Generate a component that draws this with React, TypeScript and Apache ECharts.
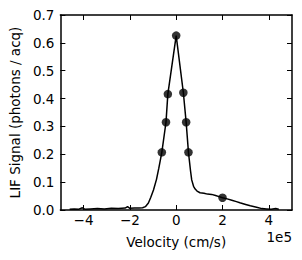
import React, { useEffect, useRef } from "react";
import * as echarts from "echarts";

const curveX = [-4.6, -4.4, -4.2, -4.05, -3.95, -3.7, -3.4, -3.1, -2.8, -2.5, -2.2, -2.1, -2.0, -1.8, -1.6, -1.45, -1.33, -1.2, -1.1, -0.98, -0.85, -0.75, -0.62, -0.44, -0.36, 0, 0.31, 0.43, 0.53, 0.62, 0.67, 0.75, 0.82, 0.9, 1.03, 1.2, 1.35, 1.53, 1.7, 1.85, 2.0, 2.2, 2.4, 2.6, 2.75, 3.0, 3.2, 3.47, 3.7, 3.9, 4.1, 4.3, 4.43];
const curveY = [0.003, 0.004, 0.003, 0.008, 0.003, 0.004, 0.005, 0.004, 0.006, 0.005, 0.007, 0.012, 0.006, 0.007, 0.007, 0.008, 0.012, 0.025, 0.045, 0.072, 0.11, 0.15, 0.207, 0.315, 0.416, 0.626, 0.421, 0.315, 0.207, 0.14, 0.108, 0.085, 0.075, 0.068, 0.062, 0.06, 0.057, 0.056, 0.052, 0.048, 0.044, 0.04, 0.035, 0.03, 0.026, 0.02, 0.015, 0.01, 0.005, 0.004, 0.003, 0.005, 0.003];
const markerX = [-0.62, -0.44, -0.36, 0, 0.31, 0.43, 0.53, 2.0];
const markerY = [0.207, 0.315, 0.416, 0.626, 0.421, 0.315, 0.207, 0.044];
const xTicks = [-4, -2, 0, 2, 4];
const yTicks = [0, 0.1, 0.2, 0.3, 0.4, 0.5, 0.6, 0.7];

const FONT = "DejaVu Sans";
const FS = 13.5;

export default function App() {
  const ref = useRef<HTMLDivElement>(null);
  useEffect(() => {
    if (!ref.current) return;
    const chart = echarts.init(ref.current, null, { renderer: "svg" });
    const fmtX = (v: number) => (v < 0 ? "\u2212" + Math.abs(v) : String(v));
    const baseAxisLine = { show: true, onZero: false, lineStyle: { color: "#000", width: 1.5 } };
    const tick = { inside: true, length: 5, lineStyle: { color: "#000", width: 1 } };
    const txt = { color: "#000", fontFamily: FONT, fontSize: FS };
    chart.setOption({
      animation: false,
      backgroundColor: "#fff",
      grid: { left: 59, right: 10, top: 15, bottom: 50, containLabel: false },
      xAxis: [
        {
          type: "value",
          min: -5,
          max: 5,
          position: "bottom",
          axisLine: baseAxisLine,
          axisTick: { ...tick, customValues: xTicks },
          axisLabel: { ...txt, customValues: xTicks, formatter: fmtX, margin: 3 },
          splitLine: { show: false },
          name: "Velocity (cm/s)",
          nameLocation: "middle",
          nameGap: 25,
          nameTextStyle: txt,
        },
        {
          type: "value",
          min: -5,
          max: 5,
          position: "top",
          axisLine: baseAxisLine,
          axisTick: { ...tick, customValues: xTicks },
          axisLabel: { show: false },
          splitLine: { show: false },
        },
      ],
      yAxis: [
        {
          type: "value",
          min: 0,
          max: 0.7,
          position: "left",
          axisLine: baseAxisLine,
          axisTick: { ...tick, customValues: yTicks },
          axisLabel: { ...txt, customValues: yTicks, formatter: (v: number) => v.toFixed(1), margin: 6 },
          splitLine: { show: false },
          name: "LIF Signal (photons / acq)",
          nameLocation: "middle",
          nameGap: 36,
          nameTextStyle: txt,
        },
        {
          type: "value",
          min: 0,
          max: 0.7,
          position: "right",
          axisLine: baseAxisLine,
          axisTick: { ...tick, customValues: yTicks },
          axisLabel: { show: false },
          splitLine: { show: false },
        },
      ],
      graphic: [
        {
          type: "text",
          right: 10,
          top: 230,
          style: { text: "1e5", fill: "#000", font: `${FS}px "${FONT}"` },
        },
      ],
      series: [
        {
          type: "line",
          data: curveX.map((x, i) => [x, curveY[i]]),
          showSymbol: false,
          symbol: "none",
          lineStyle: { color: "#000", width: 1.5 },
          z: 2,
        },
        {
          type: "scatter",
          data: markerX.map((x, i) => [x, markerY[i]]),
          symbol: "circle",
          symbolSize: 8.5,
          itemStyle: { color: "#000" },
          z: 3,
        },
      ],
    });
    return () => chart.dispose();
  }, []);
  return <div ref={ref} style={{ width: 302, height: 260, position: "absolute", left: 0, top: 0 }} />;
}
